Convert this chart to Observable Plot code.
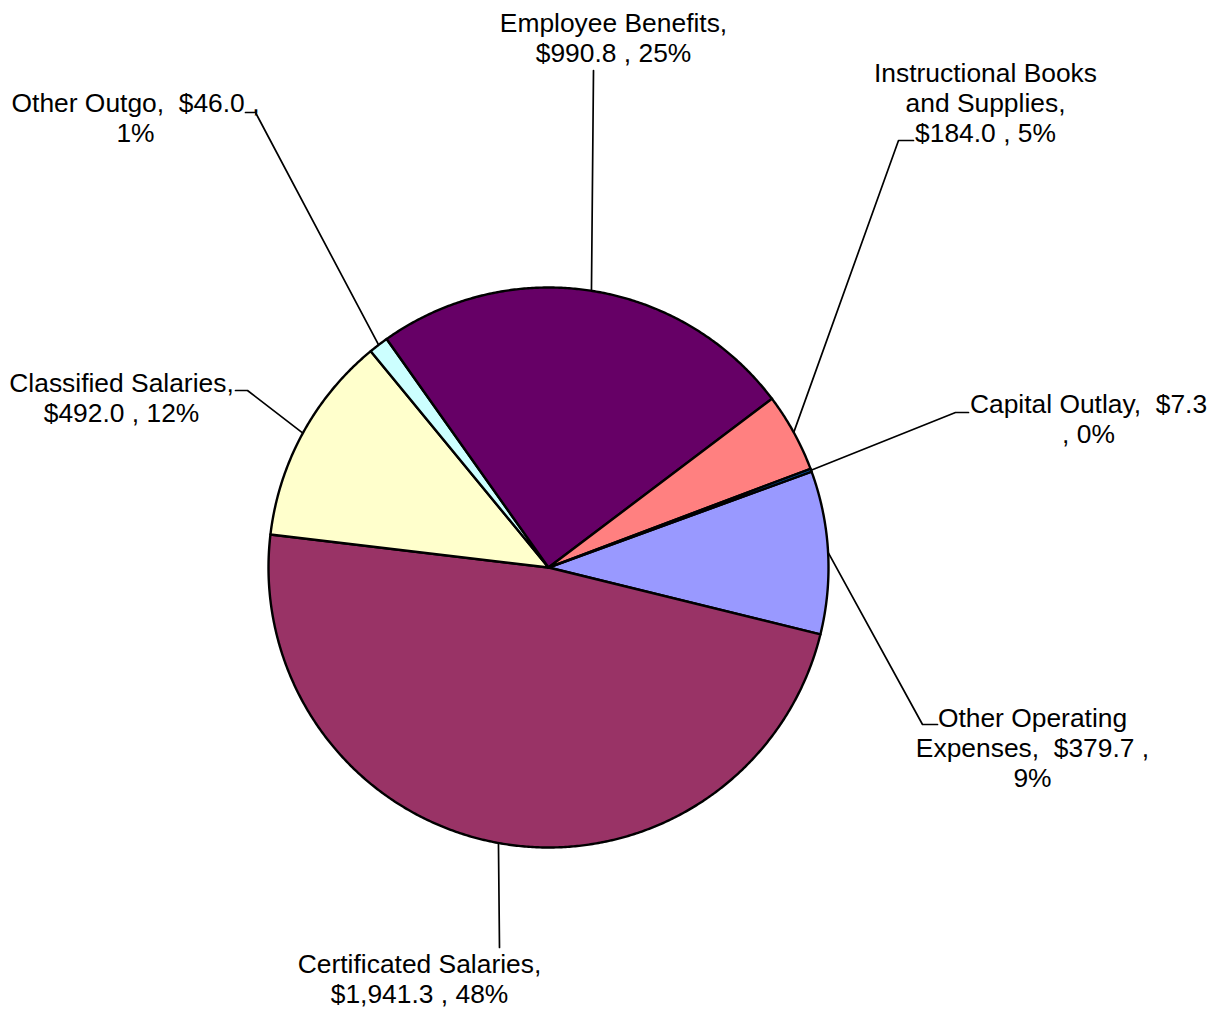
<!DOCTYPE html>
<html>
<head>
<meta charset="utf-8">
<script src="https://cdn.jsdelivr.net/npm/d3@7"></script>
<script src="https://cdn.jsdelivr.net/npm/@observablehq/plot@0.6"></script>
<style>
  html, body { margin: 0; padding: 0; background: #ffffff; }
  #chart svg { display: block; }
</style>
</head>
<body>
<div id="chart"></div>
<script>
// ---- data (Excel series order, drawn clockwise) ----
const categories = [
  "Other Operating Expenses",
  "Certificated Salaries",
  "Classified Salaries",
  "Other Outgo",
  "Employee Benefits",
  "Instructional Books and Supplies",
  "Capital Outlay"
];
const values = [379.7, 1941.3, 492.0, 46.0, 990.8, 184.0, 7.3];
const labels = [
  "Other Operating\nExpenses,  $379.7 ,\n9%",
  "Certificated Salaries,\n$1,941.3 , 48%",
  "Classified Salaries,\n$492.0 , 12%",
  "Other Outgo,  $46.0 ,\n1%",
  "Employee Benefits,\n$990.8 , 25%",
  "Instructional Books\nand Supplies,\n$184.0 , 5%",
  "Capital Outlay,  $7.3\n, 0%"
];
const colors = ["#9999FF", "#993366", "#FFFFCC", "#CCFFFF", "#660066", "#FF8080", "#0066CC"];

// ---- layout (pixels) ----
const W = 1218, H = 1009;
const cx = 548, cy = 567, R = 280;
const firstSliceAngle = 70; // degrees clockwise from 12 o'clock
const labelPos = [[1032, 747], [419, 978], [121, 397], [135, 117], [613, 37], [985, 102], [1088, 418]];
const leaderStart = [
  [[937, 724], [922, 724]],
  [[499, 947]],
  [[235, 390], [247, 390]],
  [[245, 112], [255, 112]],
  [[593, 70]],
  [[913, 140], [898, 140]],
  [[968, 412], [955, 412]]
];

const rad = Math.PI / 180;
const arcs = d3.pie().sort(null)
  .startAngle(firstSliceAngle * rad)
  .endAngle(firstSliceAngle * rad + 2 * Math.PI)(values);

const pt = (a, r = R) => ({x: cx + r * Math.sin(a), y: cy - r * Math.cos(a)});

const slices = arcs.map((a, i) => {
  const span = a.endAngle - a.startAngle;
  const n = Math.max(2, Math.ceil(span / (0.4 * rad)));
  const pts = [{x: cx, y: cy}];
  for (let k = 0; k <= n; k++) pts.push(pt(a.startAngle + span * k / n));
  pts.push({x: cx, y: cy});
  return {name: categories[i], color: colors[i], points: pts};
});

const leaders = [];
arcs.forEach((a, i) => {
  const mid = pt((a.startAngle + a.endAngle) / 2);
  leaderStart[i].forEach(([x, y]) => leaders.push({i, x, y}));
  leaders.push({i, x: mid.x, y: mid.y});
});

const labelData = labels.map((t, i) => ({text: t, x: labelPos[i][0], y: labelPos[i][1]}));

const chart = Plot.plot({
  width: W,
  height: H,
  margin: 0,
  x: {domain: [0, W], range: [0, W], axis: null},
  y: {domain: [0, H], range: [0, H], axis: null},
  style: {background: "#ffffff", fontFamily: "'Liberation Sans', Arial, sans-serif"},
  marks: [
    Plot.line(leaders, {x: "x", y: "y", z: "i", stroke: "black", strokeWidth: 1.7}),
    ...slices.map(s => Plot.line(s.points, {
      x: "x", y: "y", fill: s.color, stroke: "black", strokeWidth: 2.4, strokeLinejoin: "round"
    })),
    Plot.text(labelData, {
      x: "x", y: "y", text: "text",
      fontSize: 26.4, lineHeight: 1.13,
      textAnchor: "middle", lineAnchor: "middle",
      fill: "black", fontFamily: "'Liberation Sans', Arial, sans-serif"
    })
  ]
});
document.getElementById("chart").appendChild(chart);
</script>
</body>
</html>
